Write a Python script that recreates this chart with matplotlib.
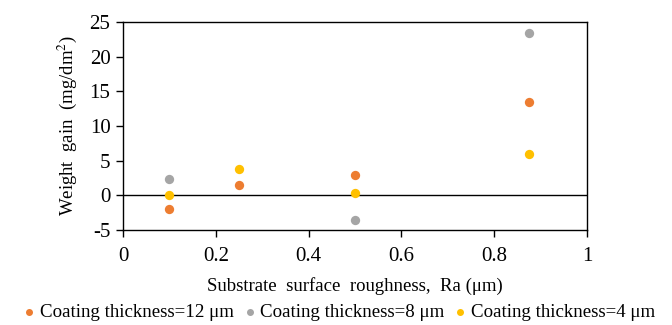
import numpy as np
import matplotlib
matplotlib.use("Agg")
import matplotlib.pyplot as plt

plt.rcParams['font.family'] = ['Liberation Serif', 'DejaVu Serif']
plt.rcParams['mathtext.fontset'] = 'stix'
plt.rcParams['axes.unicode_minus'] = False

# Data
roughness = [0.1, 0.25, 0.5, 0.875]
gain_12um = [-2.0, 1.5, 3.0, 13.4]
gain_8um = [2.4, np.nan, -3.5, 23.4]
gain_4um = [0.0, 3.8, 0.4, 6.0]

labels = ['Coating thickness=12 μm', 'Coating thickness=8 μm', 'Coating thickness=4 μm']
colors = ['#ED7D31', '#A5A5A5', '#FFC000']

fig = plt.figure(figsize=(6.72, 3.25), dpi=100)
ax = fig.add_axes([123/672, 1 - 230/325, 464/672, 208/325])

for ys, c, lab in zip([gain_12um, gain_8um, gain_4um], colors, labels):
    ax.scatter(roughness, ys, s=45, color=c, label=lab, zorder=3, linewidths=0)

ax.axhline(0, color='black', lw=1, zorder=2)

ax.set_xlim(0, 1)
ax.set_ylim(-5, 25)
ax.set_xticks([0, 0.2, 0.4, 0.6, 0.8, 1])
ax.set_xticklabels(['0', '0.2', '0.4', '0.6', '0.8', '1'])
ax.set_yticks([-5, 0, 5, 10, 15, 20, 25])
ax.tick_params(direction='out', length=5, width=1, labelsize=15)
ax.tick_params(axis='x', pad=7)
ax.tick_params(axis='y', pad=4)
for s in ax.spines.values():
    s.set_linewidth(1)

ax.set_xlabel('Substrate  surface  roughness,  Ra (μm)', fontsize=13.5, labelpad=8)
ax.set_ylabel('Weight  gain  (mg/dm$^2$)', fontsize=13.5, labelpad=8)

fig.legend(loc='lower center', bbox_to_anchor=(0.505, -0.012), ncol=3, frameon=False,
           fontsize=13.6, handlelength=0.6, handletextpad=0.25, columnspacing=0.55,
           markerscale=0.75, borderaxespad=0.0)

fig.savefig('out.png', dpi=100)
